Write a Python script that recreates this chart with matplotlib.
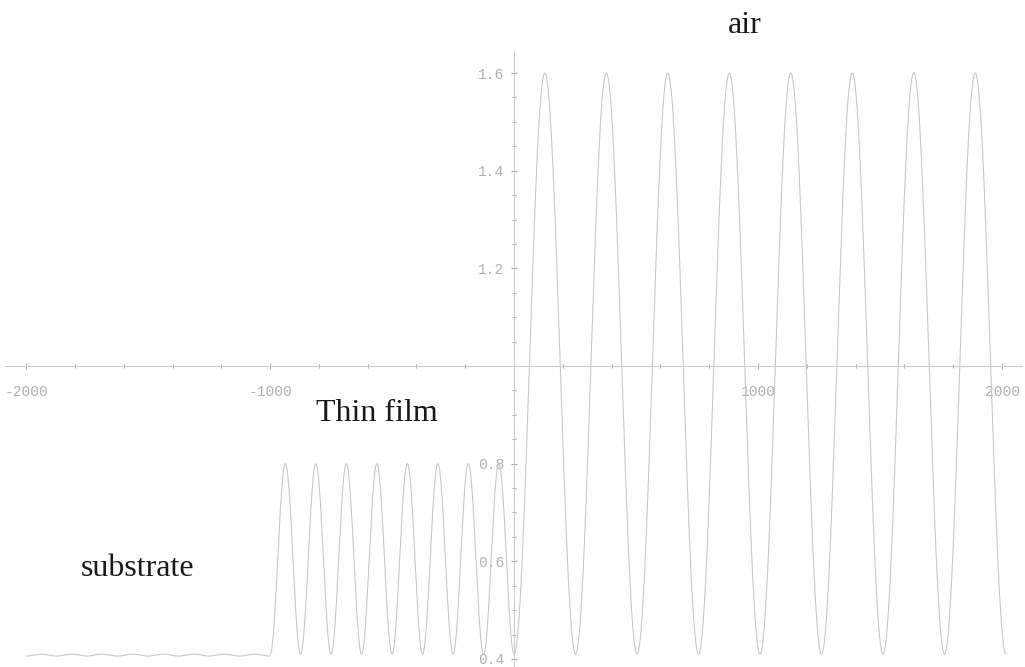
import numpy as np
import matplotlib
matplotlib.use("Agg")
import matplotlib.pyplot as plt
from matplotlib.ticker import FixedLocator

# Regions of the plotted wave
region_names = ["substrate", "Thin film", "air"]
region_start = [-2000, -1000, 0]
region_end = [-1000, 0, 2016]
region_period = [125, 125, 252]
region_low = [0.406, 0.41, 0.41]
region_high = [0.410, 0.80, 1.60]

# Tick labels
x_major = [-2000, -1000, 1000, 2000]
x_labels = ["-2000", "-1000", "1000", "2000"]
y_major = [0.4, 0.6, 0.8, 1.2, 1.4, 1.6]
y_labels = ["0.4", "0.6", "0.8", "1.2", "1.4", "1.6"]

# Annotation text and positions (data coords)
ann_text = ["air", "Thin film", "substrate"]
ann_x = [947, -561, -1543]
ann_y = [1.682, 0.888, 0.569]

fig = plt.figure(figsize=(10.25, 6.67), dpi=100)
ax = fig.add_axes([0, 0, 1, 1])
ax.set_xlim(-2107, 2094)
ax.set_ylim(0.3836, 1.7495)

line_col = "#c6c6c6"
for s, e, p, lo, hi in zip(region_start, region_end, region_period, region_low, region_high):
    x = np.linspace(s, e, 1500)
    y = lo + (hi - lo) * (1 - np.cos(2 * np.pi * (x - s) / p)) / 2
    ax.plot(x, y, color=line_col, lw=0.75)

# Axes through origin (0, 1.0)
for side in ["top", "right"]:
    ax.spines[side].set_visible(False)
ax.spines["left"].set_position(("data", 0))
ax.spines["bottom"].set_position(("data", 1.0))
ax.spines["left"].set_bounds(0.3836, 1.645)
ax.spines["bottom"].set_bounds(-2085, 2080)
for side in ["left", "bottom"]:
    ax.spines[side].set_color("#cccccc")
    ax.spines[side].set_linewidth(0.8)

ax.xaxis.set_major_locator(FixedLocator(x_major))
ax.xaxis.set_minor_locator(FixedLocator([v for v in range(-2000, 2001, 200) if v not in x_major and v != 0]))
ax.yaxis.set_major_locator(FixedLocator(y_major))
ax.yaxis.set_minor_locator(FixedLocator([round(0.4 + 0.05 * i, 2) for i in range(25)
                                         if round(0.4 + 0.05 * i, 2) not in y_major and abs(0.4 + 0.05 * i - 1.0) > 1e-6]))
ax.set_xticklabels(x_labels)
ax.set_yticklabels(y_labels)

for lab in ax.get_xticklabels() + ax.get_yticklabels():
    lab.set_fontfamily("Liberation Mono")
    lab.set_fontsize(10.5)
    lab.set_color("#b0b0b0")

ax.tick_params(axis="both", which="major", direction="inout", length=4, width=0.8, color="#a8a8a8")
ax.tick_params(axis="both", which="minor", direction="inout", length=3, width=0.8, color="#a8a8a8")
ax.tick_params(axis="x", which="major", pad=12)
ax.tick_params(axis="y", which="major", pad=5)

for t, x, y in zip(ann_text, ann_x, ann_y):
    ax.text(x, y, t, ha="center", va="baseline", fontsize=23,
            family="Liberation Serif", color="#1a1a1a")

fig.savefig("out.png", dpi=100)
